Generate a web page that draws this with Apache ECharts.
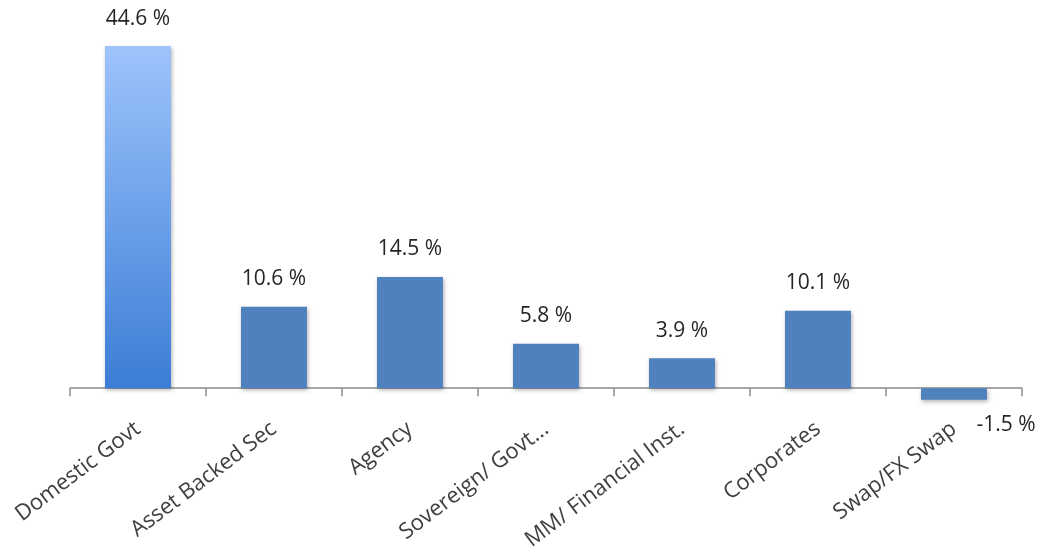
<!DOCTYPE html>
<html>
<head>
<meta charset="utf-8">
<script src="https://cdn.jsdelivr.net/npm/echarts@6/dist/echarts.min.js"></script>
<style>
html,body{margin:0;padding:0;background:#fff;}
#chart{width:1042px;height:556px;}
</style>
</head>
<body>
<div id="chart"></div>
<script>
var categories = ['Domestic Govt', 'Asset Backed Sec', 'Agency', 'Sovereign/ Govt...', 'MM/ Financial Inst.', 'Corporates', 'Swap/FX Swap'];
var values = [44.6, 10.6, 14.5, 5.8, 3.9, 10.1, -1.5];

var FONT = 'Open Sans';
var solidColor = '#4f81bd';
var gradColor = {
  type: 'linear', x: 0, y: 0, x2: 0, y2: 1,
  colorStops: [{offset: 0, color: '#9ec4fc'}, {offset: 1, color: '#3b7dd6'}]
};

var seriesData = values.map(function (v, i) {
  var item = { value: v, itemStyle: { color: i === 0 ? gradColor : solidColor } };
  if (v < 0) {
    item.label = { position: 'bottom', distance: 5, offset: [52, 10] };
  }
  return item;
});

var chart = echarts.init(document.getElementById('chart'));
chart.setOption({
  animation: false,
  backgroundColor: '#ffffff',
  grid: { left: 70, right: 20, top: 43, bottom: 129.5, containLabel: false, outerBoundsMode: 'none' },
  xAxis: {
    type: 'category',
    data: categories,
    axisLine: { onZero: true, lineStyle: { color: '#8c8c8c', width: 1.5 } },
    axisTick: { show: true, length: 8, lineStyle: { color: '#8c8c8c', width: 1.5 } },
    axisLabel: {
      rotate: 37, margin: 0, interval: 0,
      fontFamily: FONT, fontSize: 22, color: '#404040'
    }
  },
  yAxis: {
    type: 'value', min: -5, max: 45, show: false,
    splitLine: { show: false }
  },
  series: [{
    type: 'bar',
    data: seriesData,
    barWidth: 66,
    itemStyle: {
      shadowBlur: 4, shadowColor: 'rgba(0,0,0,0.3)', shadowOffsetY: 2, shadowOffsetX: 1
    },
    label: {
      show: true, position: 'top', distance: 17,
      fontFamily: FONT, fontSize: 21, color: '#262626',
      formatter: function (p) { return p.value.toFixed(1) + ' %'; }
    }
  }]
});
</script>
</body>
</html>
